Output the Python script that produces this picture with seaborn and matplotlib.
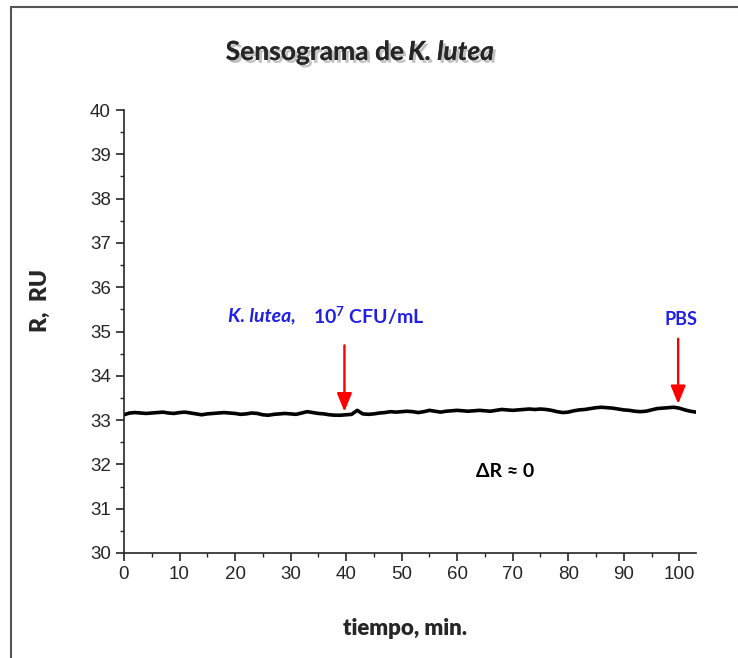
import matplotlib
matplotlib.use('Agg')
import matplotlib.pyplot as plt
import matplotlib.patheffects as pe
from matplotlib.lines import Line2D
from matplotlib.ticker import MultipleLocator
import seaborn as sns
import pandas as pd

# Sensogram readings, one per minute
tiempo = list(range(0, 104))
respuesta = [
    33.12, 33.16, 33.17, 33.16, 33.15, 33.16, 33.17, 33.18, 33.16, 33.15,
    33.17, 33.18, 33.16, 33.14, 33.12, 33.14, 33.15, 33.16, 33.17, 33.16,
    33.15, 33.13, 33.14, 33.16, 33.15, 33.12, 33.11, 33.13, 33.14, 33.15,
    33.14, 33.13, 33.16, 33.19, 33.17, 33.15, 33.14, 33.12, 33.11, 33.11,
    33.12, 33.13, 33.22, 33.14, 33.13, 33.14, 33.16, 33.17, 33.19, 33.18,
    33.19, 33.20, 33.19, 33.17, 33.19, 33.22, 33.20, 33.18, 33.20, 33.21,
    33.22, 33.21, 33.20, 33.21, 33.22, 33.21, 33.20, 33.22, 33.24, 33.23,
    33.22, 33.23, 33.24, 33.25, 33.24, 33.25, 33.24, 33.22, 33.19, 33.17,
    33.18, 33.21, 33.23, 33.24, 33.26, 33.28, 33.29, 33.28, 33.27, 33.25,
    33.23, 33.22, 33.20, 33.19, 33.20, 33.23, 33.26, 33.27, 33.28, 33.29,
    33.27, 33.23, 33.20, 33.18,
]

# Injection events (arrows)
evento_tiempo = [39.7, 99.8]
evento_inicio = [34.75, 34.9]
evento_fin = [33.13, 33.3]

df = pd.DataFrame({'tiempo': tiempo, 'R': respuesta})

sns.set_style("ticks")
plt.rcParams['font.family'] = ['Lato', 'DejaVu Sans']
plt.rcParams['mathtext.fontset'] = 'custom'
plt.rcParams['mathtext.rm'] = 'Lato:bold'
plt.rcParams['mathtext.it'] = 'Lato:bold'
plt.rcParams['mathtext.bf'] = 'Lato:bold'

fig = plt.figure(figsize=(7.38, 6.58), dpi=100)
ax = fig.add_axes([0.168, 0.1596, 0.775, 0.6732])

sns.lineplot(data=df, x='tiempo', y='R', color='black', linewidth=2.6, ax=ax)

ax.set_xlim(0, 103)
ax.set_ylim(30, 40)
ax.xaxis.set_major_locator(MultipleLocator(10))
ax.xaxis.set_minor_locator(MultipleLocator(5))
ax.yaxis.set_major_locator(MultipleLocator(1))
ax.yaxis.set_minor_locator(MultipleLocator(0.5))
ax.tick_params(which='major', length=6, width=1.2, direction='out')
ax.tick_params(which='minor', length=3, width=1.0, direction='out')
for lab in ax.get_xticklabels() + ax.get_yticklabels():
    lab.set_family(['Liberation Sans Narrow', 'Liberation Sans'])
    lab.set_fontsize(13.5)
ax.spines['right'].set_visible(False)
ax.spines['top'].set_visible(False)
ax.spines['left'].set_linewidth(1.2)
ax.spines['bottom'].set_linewidth(1.2)

ax.set_xlabel('')
ax.set_ylabel('')
fig.text(0.549, 0.045, 'tiempo, min.', fontsize=16, fontweight='heavy', ha='center', va='center')
fig.text(0.055, 0.543, 'R,  RU', fontsize=16.5, fontweight='heavy', rotation=90,
         ha='center', va='center')

# arrows
for t, y0, y1 in zip(evento_tiempo, evento_inicio, evento_fin):
    ax.annotate('', xy=(t, y1), xytext=(t, y0),
                arrowprops=dict(arrowstyle='-|>,head_width=0.45,head_length=1.1',
                                color='#ff0000', lw=1.7))

azul = '#1f1fe6'
ax.text(18.7, 35.35, 'K. lutea,', color=azul, fontsize=14, fontweight='bold',
        fontstyle='italic', ha='left', va='center')
ax.text(34.0, 35.35, '10$^{7}$ CFU/mL', color=azul, fontsize=14, fontweight='bold',
        ha='left', va='center')
ax.text(100.4, 35.27, 'PBS', color=azul, fontsize=13, fontweight='bold',
        ha='center', va='center')
ax.text(68.7, 31.83, 'ΔR ≈ 0', color='black', fontsize=14, fontweight='bold',
        ha='center', va='center')

# title with shadow
sombra = [pe.withSimplePatchShadow(offset=(2, -2), shadow_rgbFace='#999999', alpha=0.6), pe.Normal()]
fig.text(0.547, 0.921, 'Sensograma de', fontsize=19, fontweight='bold', ha='right',
         va='center', path_effects=sombra)
fig.text(0.553, 0.921, 'K. lutea', fontsize=19, fontweight='bold', fontstyle='italic',
         ha='left', va='center', path_effects=sombra)

# frame lines around the panel
fig.add_artist(Line2D([0.015, 1.0], [0.989, 0.989], transform=fig.transFigure,
                      color='#555555', lw=1.5))
fig.add_artist(Line2D([0.015, 0.015], [0.0, 0.989], transform=fig.transFigure,
                      color='#555555', lw=1.5))

fig.savefig('out.png', dpi=100)
